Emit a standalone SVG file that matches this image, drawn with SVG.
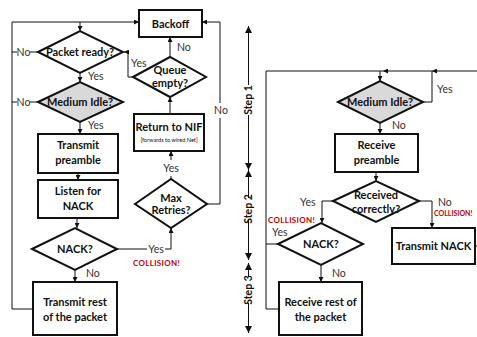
<svg xmlns="http://www.w3.org/2000/svg" width="477" height="337" viewBox="0 0 477 337">
<defs>
<marker id="ah" viewBox="0 0 10 10" refX="10" refY="5" markerWidth="5" markerHeight="5" orient="auto" markerUnits="userSpaceOnUse"><path d="M0,0 L10,5 L0,10 z" fill="#111"/></marker>
<marker id="sh" viewBox="0 0 10 10" refX="10" refY="5" markerWidth="7" markerHeight="7" orient="auto" markerUnits="userSpaceOnUse"><path d="M0,0 L10,5 L0,10 z" fill="#111"/></marker>
</defs>
<style>
.box{fill:#fff;stroke:#111;stroke-width:2}
.dia{fill:#fff;stroke:#111;stroke-width:2}
.gray{fill:#d9d9d9}
.t{font-family:Lato,"Liberation Sans",sans-serif;font-weight:bold;font-size:11px;fill:#111;text-anchor:middle}
.s{font-family:Lato,"Liberation Sans",sans-serif;font-size:5.6px;fill:#111;text-anchor:middle}
.l{font-family:Lato,"Liberation Sans",sans-serif;font-size:10.5px;fill:#333}
.c{font-family:Lato,"Liberation Sans",sans-serif;font-weight:bold;font-size:8px;fill:#c00000;letter-spacing:0.3px}
.c2{font-family:Lato,"Liberation Sans",sans-serif;font-weight:bold;font-size:7px;fill:#c00000}
.st{font-family:Lato,"Liberation Sans",sans-serif;font-weight:bold;font-size:10.5px;fill:#111;text-anchor:middle}
.w{fill:none;stroke:#111;stroke-width:1}
.a{fill:none;stroke:#111;stroke-width:1;marker-end:url(#ah)}
.sa{fill:none;stroke:#111;stroke-width:1;marker-end:url(#sh)}
</style>

<g id="connectors">
<!-- left panel -->
<path class="w" d="M33,309 H12 V22 H80"/>
<path class="a" d="M80,22 H139"/>
<path class="a" d="M80,22 V31"/>
<path class="w" d="M12,52 H17 M30,52 H38"/>
<path class="w" d="M12,102 H17 M30,102 H38"/>
<path class="a" d="M80,73 V82"/>
<path class="a" d="M80,122 V134"/>
<path class="a" d="M78,173 V180"/>
<path class="a" d="M77,218 V228"/>
<path class="a" d="M75,270 V282"/>
<path class="w" d="M117,249 H147"/>
<path class="a" d="M165,249 H171 V228"/>
<path class="w" d="M171,179 V176"/>
<path class="a" d="M171,160 V151"/>
<path class="a" d="M170,114 V97"/>
<path class="a" d="M170,57 V37"/>
<path class="a" d="M133,77 H128 V52 H124"/>
<path class="w" d="M207,204 H220 V118"/>
<path class="a" d="M220,103 V22 H202"/>
<!-- steps -->
<path class="sa" d="M248.5,85 V26"/>
<path class="sa" d="M248.5,115 V170"/>
<path class="sa" d="M248.5,198 V170"/>
<path class="sa" d="M248.5,220 V260"/>
<path class="sa" d="M248.5,277 V263"/>
<path class="sa" d="M248.5,303 V333"/>
<!-- right panel -->
<path class="w" d="M279,309 H266 V71 H383"/>
<path class="w" d="M278,244 H266"/>
<path class="a" d="M477,71 H432"/>
<path class="a" d="M432,71 H383"/>
<path class="a" d="M380,71 V81"/>
<path class="w" d="M423,102 H432 V71"/>
<path class="a" d="M380,123 V134"/>
<path class="a" d="M376,172 V181"/>
<path class="a" d="M333,201 H322 V223"/>
<path class="a" d="M419,201 H432 V228"/>
<path class="a" d="M321,265 V282"/>
<path class="w" d="M475,246 H477"/>
</g>

<g id="labels">
<text class="l" x="23.5" y="56" text-anchor="middle">No</text>
<text class="l" x="23.5" y="106" text-anchor="middle">No</text>
<text class="l" x="88" y="80">Yes</text>
<text class="l" x="88" y="129">Yes</text>
<text class="l" x="86" y="277">No</text>
<text class="l" x="156" y="253" text-anchor="middle">Yes</text>
<text class="c" x="133" y="266">COLLISION!</text>
<text class="l" x="171" y="172" text-anchor="middle">Yes</text>
<text class="l" x="221" y="114" text-anchor="middle">No</text>
<text class="l" x="177" y="51">No</text>
<text class="l" x="131" y="67">Yes</text>
<text class="st" transform="translate(252,100) rotate(-90)">Step 1</text>
<text class="st" transform="translate(252,209) rotate(-90)">Step 2</text>
<text class="st" transform="translate(252,290) rotate(-90)">Step 3</text>
<text class="l" x="437" y="93">Yes</text>
<text class="l" x="392" y="129">No</text>
<text class="l" x="300" y="206">Yes</text>
<text class="c" x="268" y="223">COLLISION!</text>
<text class="l" x="438" y="206">No</text>
<text class="c2" x="434" y="216">COLLISION!</text>
<text class="l" x="272" y="236">Yes</text>
<text class="l" x="332" y="277">No</text>
</g>

<g id="backoff"><rect class="box" x="139" y="10" width="63" height="27"/><text class="t" x="170.5" y="27.5">Backoff</text></g>
<g id="packet-ready"><polygon class="dia" points="38,52 80,31 123,52 80,73"/><text class="t" x="80" y="56">Packet ready?</text></g>
<g id="medium-idle-tx"><polygon class="dia gray" points="38,102 80,82 123,102 80,122"/><text class="t" x="80" y="106">Medium Idle?</text></g>
<g id="transmit-preamble"><rect class="box" x="38" y="134" width="80" height="39"/><text class="t" x="78" y="149">Transmit</text><text class="t" x="78" y="164">preamble</text></g>
<g id="listen-nack"><rect class="box" x="38" y="180" width="80" height="38"/><text class="t" x="78" y="195">Listen for</text><text class="t" x="78" y="210">NACK</text></g>
<g id="nack-tx"><polygon class="dia" points="32,249 75,228 117,249 75,270"/><text class="t" x="75" y="253">NACK?</text></g>
<g id="transmit-rest"><rect class="box" x="33" y="282" width="84" height="53"/><text class="t" x="75" y="306">Transmit rest</text><text class="t" x="75" y="321">of the packet</text></g>
<g id="max-retries"><polygon class="dia" points="135,204 171,179 207,204 171,228"/><text class="t" x="171" y="202">Max</text><text class="t" x="171" y="214">Retries?</text></g>
<g id="return-nif"><rect class="box" x="134" y="114" width="70" height="37"/><text class="t" x="169" y="131">Return to NIF</text><text class="s" x="169" y="142">[forwards to wired Net]</text></g>
<g id="queue-empty"><polygon class="dia" points="133,77 170,57 206,77 170,97"/><text class="t" x="170" y="74">Queue</text><text class="t" x="170" y="87">empty?</text></g>

<g id="medium-idle-rx"><polygon class="dia gray" points="338,102 380,81 423,102 380,123"/><text class="t" x="380" y="106">Medium Idle?</text></g>
<g id="receive-preamble"><rect class="box" x="335" y="134" width="83" height="38"/><text class="t" x="376.5" y="149">Receive</text><text class="t" x="376.5" y="164">preamble</text></g>
<g id="received-correctly"><polygon class="dia" points="333,201 376,181 419,201 376,222"/><text class="t" x="376" y="199">Received</text><text class="t" x="376" y="213">correctly?</text></g>
<g id="nack-rx"><polygon class="dia" points="278,244 321,223 363,244 321,265"/><text class="t" x="321" y="248">NACK?</text></g>
<g id="receive-rest"><rect class="box" x="279" y="282" width="83" height="53"/><text class="t" x="320.5" y="306">Receive rest of</text><text class="t" x="320.5" y="321">the packet</text></g>
<g id="transmit-nack"><rect class="box" x="392" y="228" width="83" height="36"/><text class="t" x="433.5" y="250">Transmit NACK</text></g>
</svg>
